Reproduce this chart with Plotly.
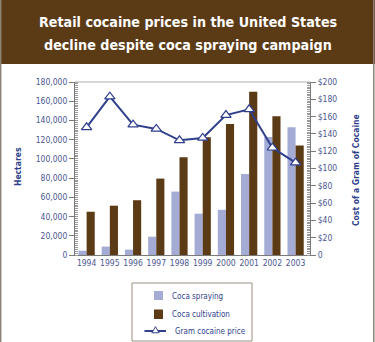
import plotly.graph_objects as go

# Coca eradication, cultivation and retail cocaine price, 1994-2003
years = ["1994", "1995", "1996", "1997", "1998", "1999", "2000", "2001", "2002", "2003"]
coca_spraying = [4500, 8750, 5600, 19000, 66000, 43000, 47000, 84250, 122700, 132800]
coca_cultivation = [45000, 51300, 57000, 79500, 101800, 122500, 136200, 169800, 144450, 113850]
gram_price = [147.6, 183, 150.7, 145.7, 132.6, 135.3, 161.8, 168.4, 124, 106.7]

hectare_ticks = [0, 20000, 40000, 60000, 80000, 100000, 120000, 140000, 160000, 180000]
price_ticks = [0, 20, 40, 60, 80, 100, 120, 140, 160, 180, 200]
price_tick_labels = ["0", "$20", "$40", "$60", "$80", "$100", "$120", "$140", "$160", "$180", "$200"]

series_names = ["Coca spraying", "Coca cultivation", "Gram cocaine price"]
title_lines = ["Retail cocaine prices in the United States",
               "decline despite coca spraying campaign"]

W, H = 375, 342
ML, MR, MT, MB = 75, 65, 82, 87
PW, PH = W - ML - MR, H - MT - MB

FONT = "DejaVu Sans Condensed"
BROWN = "#5b3a16"
SPRAY = "#a4acd6"
NAVY = "#2f3f8c"
TICK = "#4b5690"


def px(x):
    return (x - ML) / PW


def py(y):
    return (H - MB - y) / PH


def font(size, color):
    return dict(family=FONT, size=size, color=color)


fig = go.Figure()
fig.add_trace(go.Bar(x=years, y=coca_spraying, name=series_names[0],
                     marker=dict(color=SPRAY, line=dict(width=0))))
fig.add_trace(go.Bar(x=years, y=coca_cultivation, name=series_names[1],
                     marker=dict(color=BROWN, line=dict(width=0))))
fig.add_trace(go.Scatter(x=years, y=gram_price, name=series_names[2], yaxis="y2",
                         mode="lines+markers",
                         line=dict(color=NAVY, width=2),
                         marker=dict(symbol="triangle-up", size=9, color="white",
                                     line=dict(color=NAVY, width=1.2))))

axis_font = font(8.5, TICK)

fig.update_layout(
    width=W, height=H,
    margin=dict(l=ML, r=MR, t=MT, b=MB, autoexpand=False),
    paper_bgcolor="white", plot_bgcolor="white",
    barmode="group", bargap=0.3, bargroupgap=0.0,
    showlegend=False,
    xaxis=dict(type="category", range=[-0.5, 9.62], showline=True, linecolor="#7a7a7a",
               linewidth=1, ticks="", tickangle=0, tickfont=axis_font, showgrid=False),
    yaxis=dict(range=[0, 180000], tickvals=hectare_ticks, tickformat=",",
               showline=True, linecolor="#7a7a7a", linewidth=1, ticks="outside",
               ticklen=5, tickcolor="#7a7a7a", tickfont=axis_font, showgrid=False,
               zeroline=False,
               minor=dict(dtick=2000, ticks="inside", ticklen=3, tickcolor="#9a9a9a")),
    yaxis2=dict(range=[0, 200], overlaying="y", side="right", tickvals=price_ticks,
                ticktext=price_tick_labels, showline=True, linecolor="#7a7a7a",
                linewidth=1, ticks="outside", ticklen=5, tickcolor="#7a7a7a",
                tickfont=axis_font, showgrid=False, zeroline=False,
                minor=dict(dtick=2, ticks="inside", ticklen=3, tickcolor="#9a9a9a")),
)


def rect(x0, y0, x1, y1, **kw):
    return dict(type="rect", xref="paper", yref="paper",
                x0=px(x0), x1=px(x1), y0=py(y1), y1=py(y0), **kw)


def hline(x0, x1, y, color, width):
    return dict(type="line", xref="paper", yref="paper", x0=px(x0), x1=px(x1),
                y0=py(y), y1=py(y), line=dict(color=color, width=width))


def triangle(cx, cy, r):
    pts = [(cx, cy - r), (cx + r * 0.95, cy + r * 0.6), (cx - r * 0.95, cy + r * 0.6)]
    path = "M " + " L ".join(f"{px(a)},{py(b)}" for a, b in pts) + " Z"
    return dict(type="path", xref="paper", yref="paper", path=path,
                fillcolor="white", line=dict(color=NAVY, width=1))


shapes = [
    # title band
    rect(0, 0, W, 64, fillcolor=BROWN, line=dict(width=0), layer="below"),
    # outer frame edges
    dict(type="line", xref="paper", yref="paper", x0=px(0.7), x1=px(0.7), y0=py(H), y1=py(0),
         line=dict(color="#8c8474", width=1.5)),
    dict(type="line", xref="paper", yref="paper", x0=px(373.8), x1=px(373.8), y0=py(H), y1=py(0),
         line=dict(color="#8c8474", width=1.5)),
    # top edge of plot frame
    dict(type="line", xref="paper", yref="paper", x0=0, x1=1, y0=1, y1=1,
         line=dict(color="#b0b0b0", width=1)),
    # legend box and keys
    rect(132, 283, 252, 341, fillcolor="white", line=dict(color="#9a9080", width=1)),
    rect(154, 291, 163, 300, fillcolor=SPRAY, line=dict(width=0)),
    rect(154, 309.5, 163, 319, fillcolor=BROWN, line=dict(width=0)),
    hline(144.5, 166, 331, NAVY, 2),
    triangle(155.5, 330.5, 3.8),
]
fig.update_layout(shapes=shapes)

legend_rows = [(170, 296), (170, 314.5), (173, 331)]
for name, (x_px, y_px) in zip(series_names, legend_rows):
    fig.add_annotation(text=name, xref="paper", yref="paper", x=px(x_px), y=py(y_px),
                       xanchor="left", yanchor="middle", showarrow=False,
                       font=font(8, NAVY))

for line_text, y_px in zip(title_lines, [22, 45]):
    fig.add_annotation(text="<b>" + line_text + "</b>",
                       xref="paper", yref="paper", x=px(W / 2), y=py(y_px), xanchor="center",
                       yanchor="middle", showarrow=False, font=font(14.2, "white"))
fig.add_annotation(text="<b>Hectares</b>", textangle=-90, xref="paper", yref="paper",
                   x=px(18), y=py(167), xanchor="center", yanchor="middle", showarrow=False,
                   font=font(8.5, NAVY))
fig.add_annotation(text="<b>Cost of a Gram of Cocaine</b>", textangle=-90, xref="paper",
                   yref="paper", x=px(356), y=py(170), xanchor="center", yanchor="middle",
                   showarrow=False, font=font(8.5, NAVY))

fig.write_html("out.html")
